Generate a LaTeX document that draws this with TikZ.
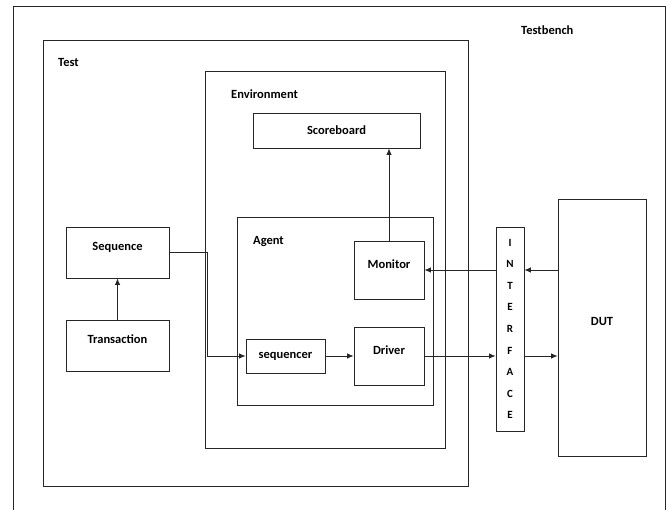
\documentclass[tikz,border=0pt]{standalone}
\usepackage{fontspec}
\setmainfont{Carlito}
\usetikzlibrary{arrows.meta,positioning}
\tikzset{
  blk/.style={draw=black!85, line width=0.8pt, fill=white, inner sep=0pt,
    font=\fontsize{12.5}{15}\selectfont\bfseries},
  raised/.style={text depth=12pt},
  frame/.style={draw=black!85, line width=0.8pt, inner sep=0pt},
  lbl/.style={anchor=west, inner sep=0pt, font=\fontsize{12.5}{15}\selectfont\bfseries},
  sig/.style={draw=black!85, line width=0.8pt, -{Latex[length=6.5pt,width=5.5pt]}},
}

\begin{document}
\begin{tikzpicture}[x=1pt,y=-1pt]
\useasboundingbox (0,0) rectangle (668,510);

% outer testbench frame (runs off the bottom)
\draw[black!85, line width=0.8pt] (13,510) -- (13,6) -- (665,6) -- (665,510);
\node[lbl] (tbname) at (521,30) {Testbench};

% nested containers
\node[frame, minimum width=425, minimum height=446] (test) at (255.5,263) {};
\node[lbl] (testname) at (58,62) {Test};
\node[frame, minimum width=240, minimum height=377] (env) at (325,259.5) {};
\node[lbl] (envname) at (231,94) {Environment};
\node[frame, minimum width=196, minimum height=188] (agent) at (335,311) {};
\node[lbl] (agentname) at (253,242) {Agent};

% blocks
\node[blk, raised, minimum width=103, minimum height=51] (seq) at (117.5,252.5) {Sequence};
\node[blk, raised, minimum width=103, minimum height=51] (trans) at (117.5,345.5) {Transaction};
\node[blk, minimum width=167, minimum height=35] (score) at (336.5,130.5) {Scoreboard};
\node[blk, raised, minimum width=70, minimum height=58] (mon) at (389,270) {Monitor};
\node[blk, raised, minimum width=70, minimum height=58] (drv) at (389,356) {Driver};
\node[blk, minimum width=79, minimum height=34] (sqr) at (285.5,356) {sequencer};
\node[blk, minimum width=28, minimum height=204, align=center,
  font=\fontsize{11}{21.6}\selectfont\bfseries] (intf) at (510,329)
  {I\\N\\T\\E\\R\\F\\A\\C\\E};
\node[blk, raised, minimum width=88, minimum height=257] (dut) at (602,327.5) {DUT};

% connections
\draw[sig] (trans) -- (seq);
\draw[sig] (seq.east) -- (207,0 |- seq.east) |- (sqr.west);
\draw[sig] (sqr) -- (drv);
\draw[sig] (mon.north) -- (mon.north |- score.south);
\draw[sig] (intf.west |- mon.east) -- (mon.east);
\draw[sig] (dut.west |- mon.east) -- (intf.east |- mon.east);
\draw[sig] (drv.east) -- (drv.east -| intf.west);
\draw[sig] (intf.east |- drv.east) -- (dut.west |- drv.east);
\end{tikzpicture}
\end{document}
